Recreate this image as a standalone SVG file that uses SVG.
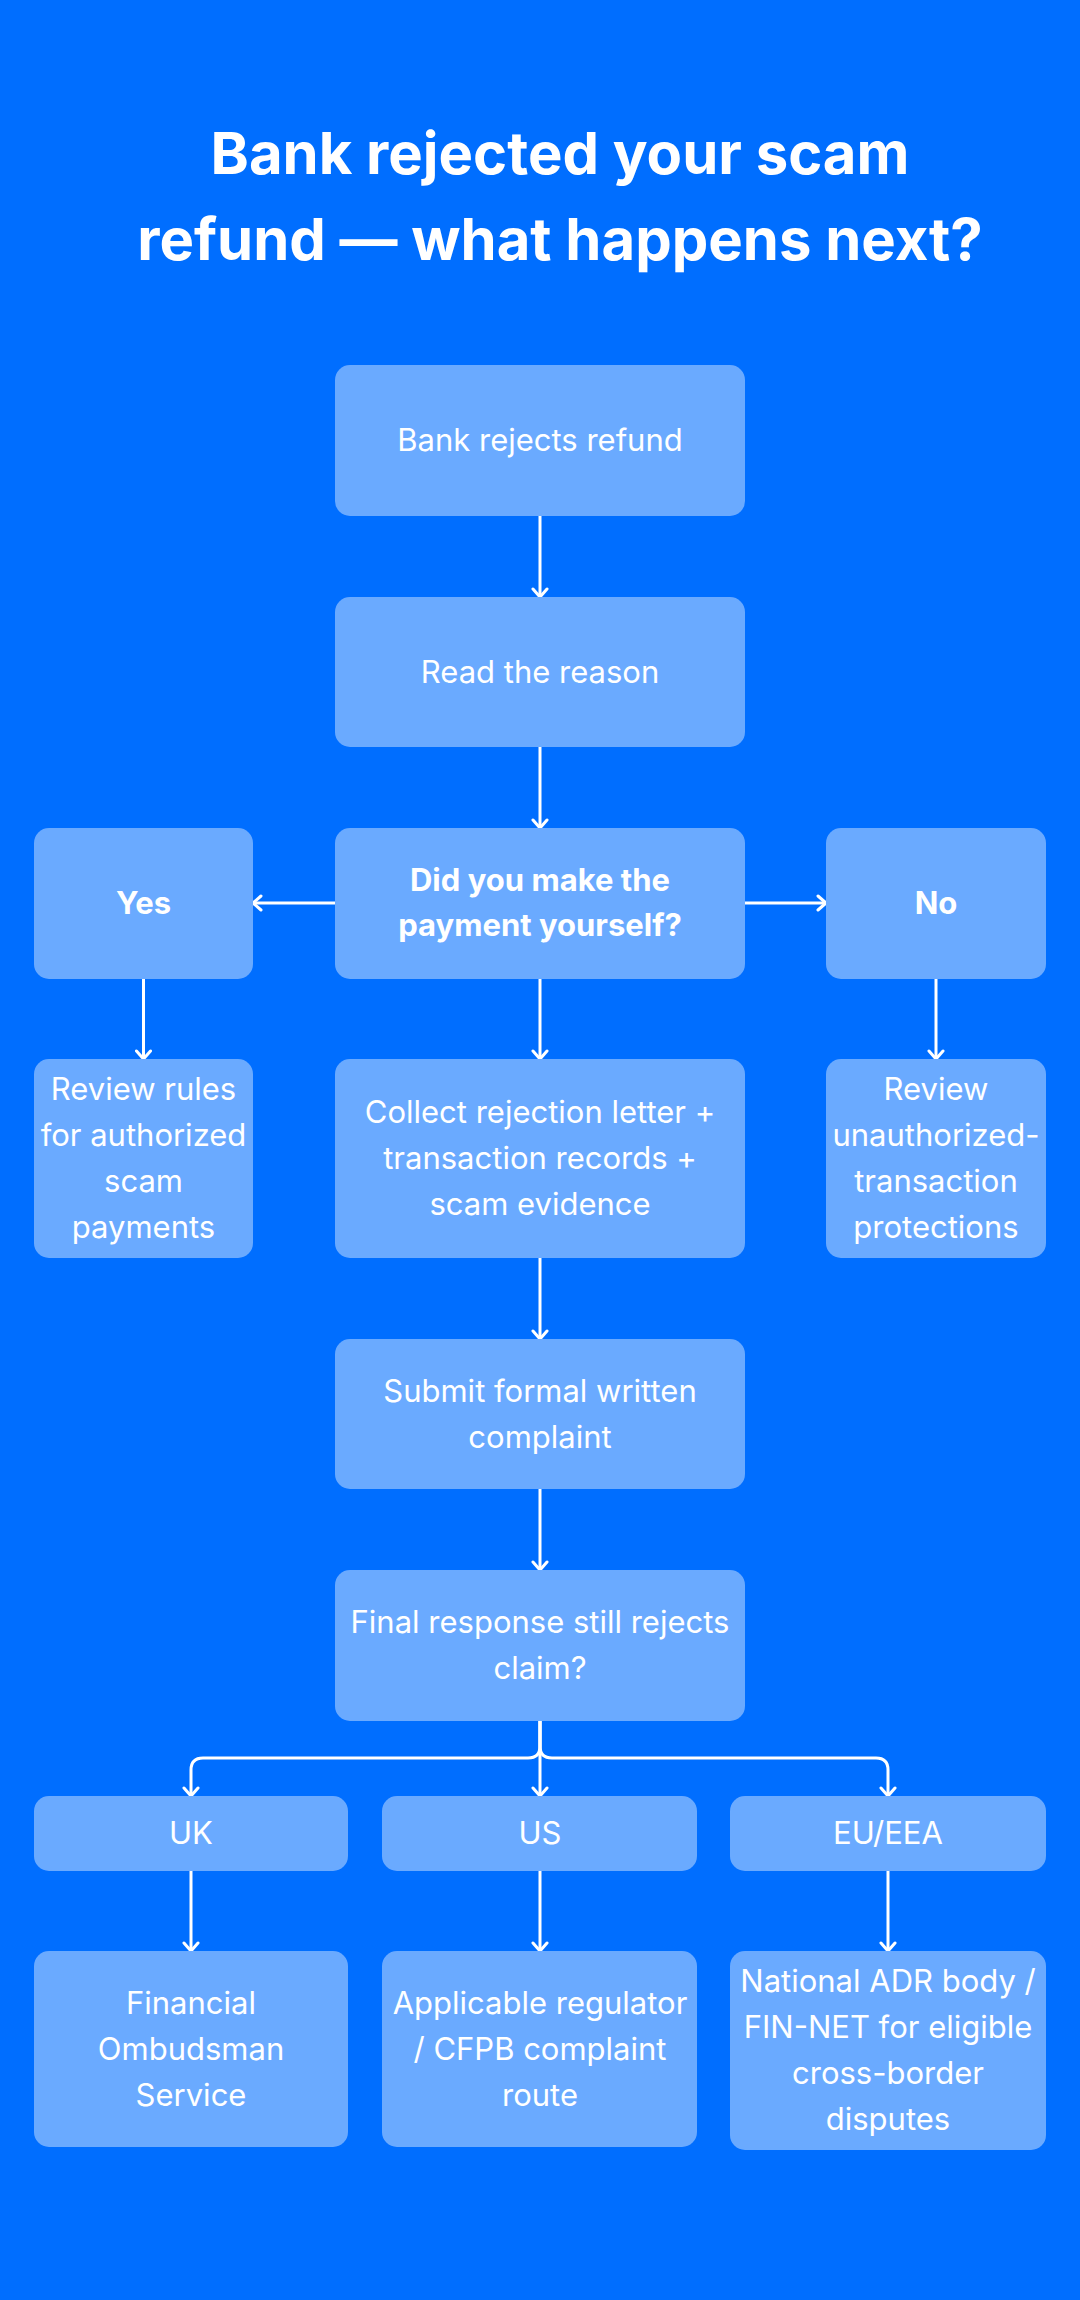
<svg xmlns="http://www.w3.org/2000/svg" width="1080" height="2300" viewBox="0 0 1080 2300">
<defs>
<style>
.bg{fill:#006EFF}
.box{fill:#6AAAFF}
.t{font-family:Inter,"Noto Sans","Liberation Sans",sans-serif;font-size:31px;fill:#FFFFFF;text-anchor:middle}
.b{font-weight:700}
.title{font-family:Inter,"Noto Sans","Liberation Sans",sans-serif;font-size:58px;font-weight:700;fill:#FFFFFF;text-anchor:middle}
.c{fill:none;stroke:#FFFFFF;stroke-width:3}
</style>
<marker id="ah" markerUnits="userSpaceOnUse" markerWidth="18" markerHeight="18" refX="13" refY="9" orient="auto">
<path d="M5,2 L13,9 L5,16" fill="none" stroke="#FFFFFF" stroke-width="3" stroke-linejoin="round" stroke-linecap="round"/>
</marker>
</defs>
<rect class="bg" x="0" y="0" width="1080" height="2300"/>
<g id="title">
<text class="title" x="560" y="174">Bank rejected your scam</text>
<text class="title" x="560" y="260">refund — what happens next?</text>
</g>
<g id="connectors">
<line class="c" x1="540" y1="516" x2="540" y2="597" marker-end="url(#ah)"/>
<line class="c" x1="540" y1="747" x2="540" y2="828" marker-end="url(#ah)"/>
<line class="c" x1="335" y1="903" x2="253" y2="903" marker-end="url(#ah)"/>
<line class="c" x1="745" y1="903" x2="826" y2="903" marker-end="url(#ah)"/>
<line class="c" x1="143.5" y1="979" x2="143.5" y2="1059" marker-end="url(#ah)"/>
<line class="c" x1="540" y1="979" x2="540" y2="1059" marker-end="url(#ah)"/>
<line class="c" x1="936" y1="979" x2="936" y2="1059" marker-end="url(#ah)"/>
<line class="c" x1="540" y1="1258" x2="540" y2="1339" marker-end="url(#ah)"/>
<line class="c" x1="540" y1="1489" x2="540" y2="1570" marker-end="url(#ah)"/>
<path class="c" d="M540,1721 V1746 Q540,1758 528,1758 H203 Q191,1758 191,1770 V1796" marker-end="url(#ah)"/>
<line class="c" x1="540" y1="1721" x2="540" y2="1796" marker-end="url(#ah)"/>
<path class="c" d="M540,1721 V1746 Q540,1758 552,1758 H876 Q888,1758 888,1770 V1796" marker-end="url(#ah)"/>
<line class="c" x1="191" y1="1871" x2="191" y2="1951" marker-end="url(#ah)"/>
<line class="c" x1="540" y1="1871" x2="540" y2="1951" marker-end="url(#ah)"/>
<line class="c" x1="888" y1="1871" x2="888" y2="1951" marker-end="url(#ah)"/>
</g>
<g id="n-reject">
<rect class="box" x="335" y="365" width="410" height="151" rx="15"/>
<text class="t" x="540" y="451">Bank rejects refund</text>
</g>
<g id="n-read">
<rect class="box" x="335" y="597" width="410" height="150" rx="15"/>
<text class="t" x="540" y="683">Read the reason</text>
</g>
<g id="n-decision">
<rect class="box" x="335" y="828" width="410" height="151" rx="15"/>
<text class="t b" x="540" y="891">Did you make the</text>
<text class="t b" x="540" y="936">payment yourself?</text>
</g>
<g id="n-yes">
<rect class="box" x="34" y="828" width="219" height="151" rx="15"/>
<text class="t b" x="143.5" y="914">Yes</text>
</g>
<g id="n-no">
<rect class="box" x="826" y="828" width="220" height="151" rx="15"/>
<text class="t b" x="936" y="914">No</text>
</g>
<g id="n-authorized">
<rect class="box" x="34" y="1059" width="219" height="199" rx="15"/>
<text class="t" x="143.5" y="1100">Review rules</text>
<text class="t" x="143.5" y="1146">for authorized</text>
<text class="t" x="143.5" y="1192">scam</text>
<text class="t" x="143.5" y="1238">payments</text>
</g>
<g id="n-collect">
<rect class="box" x="335" y="1059" width="410" height="199" rx="15"/>
<text class="t" x="540" y="1123">Collect rejection letter +</text>
<text class="t" x="540" y="1169">transaction records +</text>
<text class="t" x="540" y="1215">scam evidence</text>
</g>
<g id="n-unauthorized">
<rect class="box" x="826" y="1059" width="220" height="199" rx="15"/>
<text class="t" x="936" y="1100">Review</text>
<text class="t" x="936" y="1146">unauthorized-</text>
<text class="t" x="936" y="1192">transaction</text>
<text class="t" x="936" y="1238">protections</text>
</g>
<g id="n-submit">
<rect class="box" x="335" y="1339" width="410" height="150" rx="15"/>
<text class="t" x="540" y="1402">Submit formal written</text>
<text class="t" x="540" y="1448">complaint</text>
</g>
<g id="n-final">
<rect class="box" x="335" y="1570" width="410" height="151" rx="15"/>
<text class="t" x="540" y="1633">Final response still rejects</text>
<text class="t" x="540" y="1679">claim?</text>
</g>
<g id="n-uk">
<rect class="box" x="34" y="1796" width="314" height="75" rx="15"/>
<text class="t" x="191" y="1844">UK</text>
</g>
<g id="n-us">
<rect class="box" x="382" y="1796" width="315" height="75" rx="15"/>
<text class="t" x="540" y="1844">US</text>
</g>
<g id="n-eu">
<rect class="box" x="730" y="1796" width="316" height="75" rx="15"/>
<text class="t" x="888" y="1844">EU/EEA</text>
</g>
<g id="n-fos">
<rect class="box" x="34" y="1951" width="314" height="196" rx="15"/>
<text class="t" x="191" y="2014">Financial</text>
<text class="t" x="191" y="2060">Ombudsman</text>
<text class="t" x="191" y="2106">Service</text>
</g>
<g id="n-cfpb">
<rect class="box" x="382" y="1951" width="315" height="196" rx="15"/>
<text class="t" x="540" y="2014">Applicable regulator</text>
<text class="t" x="540" y="2060">/ CFPB complaint</text>
<text class="t" x="540" y="2106">route</text>
</g>
<g id="n-adr">
<rect class="box" x="730" y="1951" width="316" height="199" rx="15"/>
<text class="t" x="888" y="1992">National ADR body /</text>
<text class="t" x="888" y="2038">FIN-NET for eligible</text>
<text class="t" x="888" y="2084">cross-border</text>
<text class="t" x="888" y="2130">disputes</text>
</g>
</svg>
